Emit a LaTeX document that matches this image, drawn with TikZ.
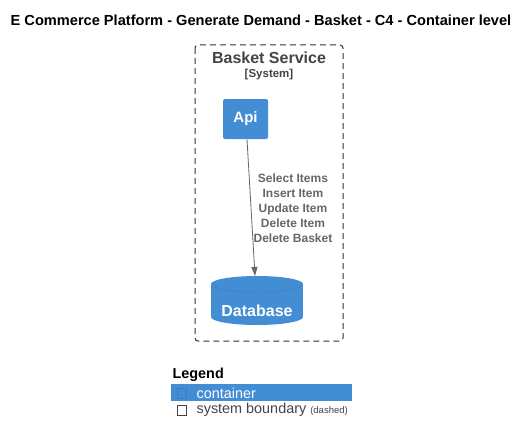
\documentclass[tikz,border=0pt]{standalone}
\usepackage{fontspec}
\setmainfont{Liberation Sans}
\usetikzlibrary{arrows.meta,positioning}
\definecolor{cblue}{HTML}{438DD5}
\definecolor{cline}{HTML}{3C7FC0}
\definecolor{cgray}{HTML}{666666}
\definecolor{cdark}{HTML}{444444}
\tikzset{
  container/.style={fill=cblue,rounded corners=2pt,minimum width=45pt,minimum height=40pt,
    text=white,font=\bfseries\fontsize{15}{17}\selectfont},
  rel/.style={cgray,line width=0.8pt,-{Triangle[length=9pt,width=6pt]}},
  rellabel/.style={cgray,align=center,font=\bfseries\fontsize{12}{15}\selectfont},
  legendtext/.style={anchor=west,font=\fontsize{14.4}{16}\selectfont}
}

\begin{document}
\begin{tikzpicture}[x=1pt,y=-1pt,semithick]
\useasboundingbox (0,0) rectangle (530,444);
\node[font=\bfseries\fontsize{14.6}{16}\selectfont] (title) at (261,20) {E Commerce Platform - Generate Demand - Basket - C4 - Container level};
% system boundary
\draw[black!80,line width=1pt,dash pattern=on 6pt off 4pt,rounded corners=3pt] (195,45) rectangle (343,341);
\node[cdark,font=\bfseries\fontsize{16}{18}\selectfont] (sys) at (269,58) {Basket Service};
\node[cdark,font=\bfseries\fontsize{11.5}{13}\selectfont] (systag) at (269,75) {[System]};
% containers
\node[container] (api) at (245.5,119) {Api};
\fill[cblue] (211,284) rectangle (303,317);
\fill[cblue] (257,317) ellipse[x radius=46,y radius=8];
\fill[cblue] (257,284) ellipse[x radius=46,y radius=8];
\begin{scope}
\clip (211,285) rectangle (303,294);
\draw[cline,thin] (257,284) ellipse[x radius=46,y radius=8];
\end{scope}
\node[text=white,font=\bfseries\fontsize{16}{18}\selectfont] (db) at (257,311) {Database};
\coordinate (dbtop) at (255,276);
\draw[rel] (api.south) ++(1.5,0) coordinate (apiout) (apiout)--(dbtop);
\node[rellabel] (calls) at (293,208) {Select Items\\Insert Item\\Update Item\\Delete Item\\Delete Basket};
% legend
\node[anchor=west,font=\bfseries\fontsize{14.4}{16}\selectfont] (legend) at (169,375) {Legend};
\fill[cblue] (171,384) rectangle (352,401);
\draw[cline,thin] (177,388) rectangle (186,398);
\node[legendtext,text=white] (lcont) at (193,393) {container};
\draw[cdark,thin] (177,405) rectangle (186,415);
\node[legendtext,text=cdark] (lsys) at (193,410) {system boundary {\fontsize{9.5}{10}\selectfont(dashed)}};
\end{tikzpicture}
\end{document}
